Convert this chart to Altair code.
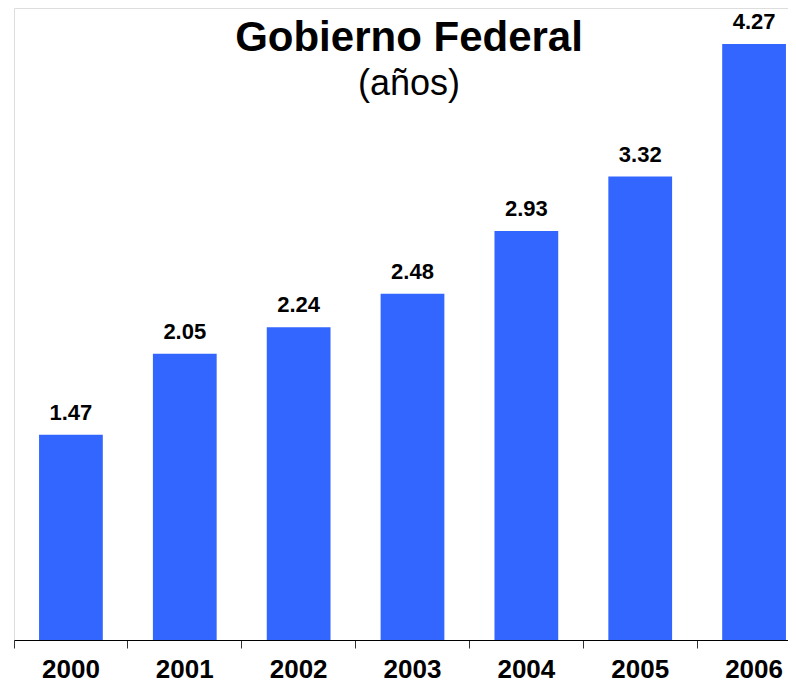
import altair as alt
import pandas as pd

years = ["2000", "2001", "2002", "2003", "2004", "2005", "2006"]
values = [1.47, 2.05, 2.24, 2.48, 2.93, 3.32, 4.27]

df = pd.DataFrame({"year": years, "value": values})

FONT = "Liberation Sans"

base = alt.Chart(df).encode(
    x=alt.X(
        "year:N",
        sort=None,
        scale=alt.Scale(range=[0, 797], paddingInner=0, paddingOuter=0),
        axis=alt.Axis(
            title=None,
            labelAngle=0,
            bandPosition=0,
            tickSize=8,
            tickColor="#333333",
            tickWidth=1,
            domainColor="#000000",
            domainWidth=1,
            labelFont=FONT,
            labelFontSize=26,
            labelFontWeight="bold",
            labelColor="#000000",
            labelPadding=8,
            grid=False,
        ),
    ),
    y=alt.Y(
        "value:Q",
        scale=alt.Scale(domain=[0, 4.528], nice=False, zero=True),
        axis=None,
    ),
)

bars = base.mark_bar(color="#3366FF", width=alt.RelativeBandSize(0.56))

labels = base.mark_text(
    dy=-15,
    baseline="alphabetic",
    fontSize=22,
    fontWeight="bold",
    font=FONT,
    color="#000000",
).encode(text=alt.Text("value:Q", format=".2f"))

chart = (
    alt.layer(bars, labels)
    .properties(
        width=774,
        height=632,
        autosize=alt.AutoSizeParams(type="none"),
        padding={"left": 6, "top": 0, "right": 0, "bottom": 44},
        title=alt.Title(
            text="Gobierno Federal",
            subtitle="(años)",
            anchor="middle",
            dx=8,
            offset=-95,
            font=FONT,
            fontSize=42,
            fontWeight="bold",
            color="#000000",
            subtitleFont=FONT,
            subtitleFontSize=36,
            subtitleColor="#000000",
            subtitlePadding=7,
        ),
    )
    .configure_view(stroke=None)
    .configure(background="white")
)

chart.save("out.html", embed_options={"renderer": "svg", "actions": False})
